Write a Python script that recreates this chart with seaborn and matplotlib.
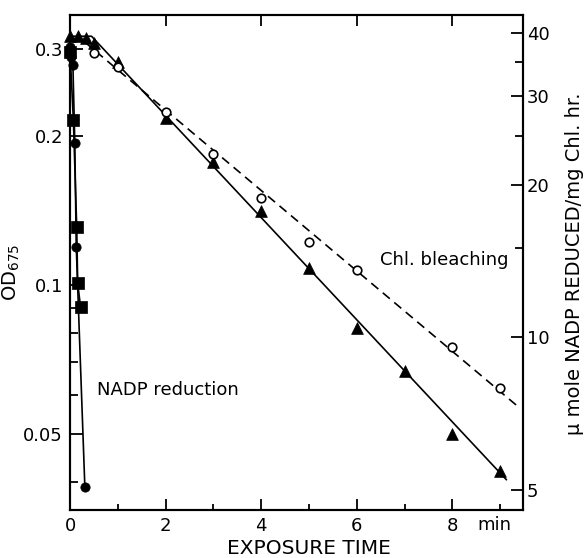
import numpy as np
import pandas as pd
import matplotlib
matplotlib.use("Agg")
import matplotlib.pyplot as plt
from matplotlib.ticker import NullFormatter
import seaborn as sns

# Chl. bleaching, OD675 (left axis)
tri_time = [0, 0.17, 0.33, 0.5, 1, 2, 3, 4, 5, 6, 7, 8, 9]
tri_od = [0.318, 0.318, 0.316, 0.308, 0.282, 0.217, 0.177, 0.141, 0.108, 0.082, 0.067, 0.050, 0.042]
open_time = [0.5, 1, 2, 3, 4, 5, 6, 8, 9]
open_od = [0.294, 0.276, 0.224, 0.184, 0.150, 0.122, 0.107, 0.075, 0.062]

# hand drawn fit lines
tri_fit_time = [0, 0.45, 9.13]
tri_fit_od = [0.318, 0.318, 0.0404]
open_fit_time = [0.3, 9.38]
open_fit_od = [0.310, 0.0567]

# NADP reduction (right axis)
circ_time = [0, 0.03, 0.06, 0.1, 0.13, 0.31]
circ_rate = [37.5, 35.9, 34.6, 24.2, 15.1, 5.07]
sq_time = [0, 0.07, 0.14, 0.16, 0.22]
sq_rate = [36.7, 26.9, 16.5, 12.8, 11.5]

x_ticks = [0, 2, 4, 6, 8]
x_minor = [1, 3, 5, 7, 9]
od_ticks = [0.05, 0.1, 0.2, 0.3]
od_labels = ["0.05", "0.1", "0.2", "0.3"]
od_minor = [0.04, 0.06, 0.07, 0.08, 0.09]
rate_ticks = [5, 10, 20, 30, 40]
rate_minor = [15, 25, 35]

sns.set_theme(style="ticks")
plt.rcParams.update({
    "font.family": ["DejaVu Sans"],
    "text.color": "black",
    "axes.labelcolor": "black",
    "xtick.color": "black",
    "ytick.color": "black",
    "axes.edgecolor": "black",
    "axes.linewidth": 1.5,
})

fig = plt.figure(figsize=(5.87, 5.58), dpi=100)
ax = fig.add_axes([0.1193, 0.086, 0.7712, 0.8871])
ax2 = ax.twinx()

# lines
sns.lineplot(x=tri_fit_time, y=tri_fit_od, ax=ax, color="black", lw=1.2, sort=False, estimator=None)
sns.lineplot(x=open_fit_time, y=open_fit_od, ax=ax, color="black", lw=1.2, sort=False,
             estimator=None, linestyle=(0, (5.5, 3.5)))
sns.lineplot(x=circ_time, y=circ_rate, ax=ax2, color="black", lw=1.2, sort=False, estimator=None)
sns.lineplot(x=sq_time, y=sq_rate, ax=ax2, color="black", lw=1.2, sort=False, estimator=None)

# markers
sns.scatterplot(x=tri_time, y=tri_od, ax=ax, marker="^", s=72, color="black",
                edgecolor="black", linewidth=0.5, zorder=4, clip_on=False)
sns.scatterplot(x=open_time, y=open_od, ax=ax, marker="o", s=38, color="white",
                edgecolor="black", linewidth=1.2, zorder=4, clip_on=False)
sns.scatterplot(x=circ_time, y=circ_rate, ax=ax2, marker="o", s=45, color="black",
                edgecolor="black", linewidth=0.5, zorder=4, clip_on=False)
sns.scatterplot(x=sq_time, y=sq_rate, ax=ax2, marker="s", s=64, color="black",
                edgecolor="black", linewidth=0.5, zorder=4, clip_on=False)

ax.set_yscale("log")
ax2.set_yscale("log")
ax.set_xlim(0, 9.47)
ax.set_ylim(0.0351, 0.351)
ax2.set_ylim(4.56, 43.4)

ax.set_xticks(x_ticks)
ax.set_xticklabels([str(t) for t in x_ticks])
ax.set_xticks(x_minor, minor=True)
ax.set_yticks(od_ticks)
ax.set_yticklabels(od_labels)
ax.set_yticks(od_minor, minor=True)
ax.yaxis.set_minor_formatter(NullFormatter())
ax2.set_yticks(rate_ticks)
ax2.set_yticklabels([str(v) for v in rate_ticks])
ax2.set_yticks(rate_minor, minor=True)
ax2.yaxis.set_minor_formatter(NullFormatter())

ax.tick_params(axis="x", which="major", direction="in", top=True, length=8, width=1.3,
               labelsize=13, pad=5)
ax.tick_params(axis="x", which="minor", direction="in", top=False, length=4.5, width=1.3)
ax.tick_params(axis="y", which="major", direction="in", length=9.5, width=1.3,
               labelsize=13, pad=5)
ax.tick_params(axis="y", which="minor", direction="in", length=5.5, width=1.3)
ax2.tick_params(axis="y", which="major", direction="in", length=9, width=1.3,
                labelsize=13, pad=3)
ax2.tick_params(axis="y", which="minor", direction="in", length=5.5, width=1.3)

ax.set_xlabel("EXPOSURE TIME", fontsize=14.5)
ax.xaxis.set_label_coords(0.528, -0.058)
ax.set_ylabel("OD$_{675}$", fontsize=14)
ax.yaxis.set_label_coords(-0.106, 0.48)
ax2.set_ylabel("\u03bc mole NADP REDUCED/mg Chl. hr.", fontsize=14)
ax2.yaxis.set_label_coords(1.094, 0.497)

ax.text(0.557, 0.0613, "NADP reduction", fontsize=13, va="center")
ax.text(6.49, 0.1123, "Chl. bleaching", fontsize=13, va="center")
ax.text(8.88, -0.0303, "min", fontsize=13, va="center", ha="center",
        transform=ax.get_xaxis_transform())

for a in (ax, ax2):
    for s in a.spines.values():
        s.set_linewidth(1.5)

fig.savefig("out.png", dpi=100)
